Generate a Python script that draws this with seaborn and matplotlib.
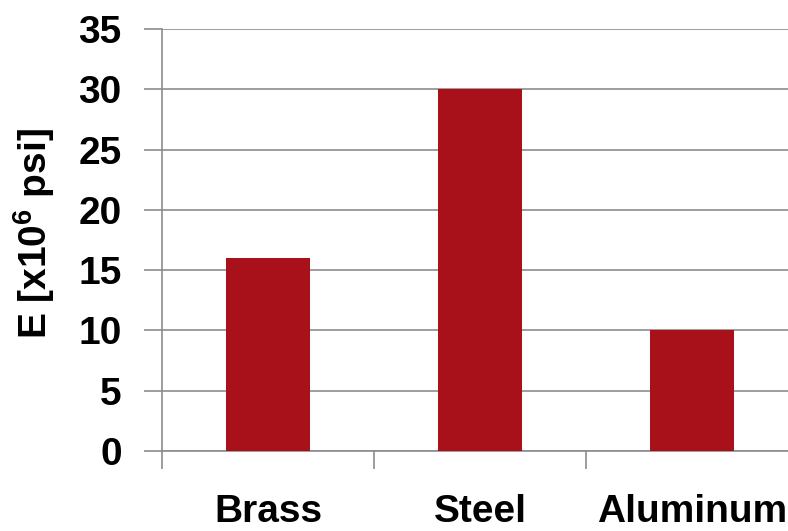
import matplotlib
matplotlib.use("Agg")
import matplotlib.pyplot as plt
import seaborn as sns
import numpy as np
from matplotlib.ticker import FixedLocator, NullFormatter

materials = ["Brass", "Steel", "Aluminum"]
modulus = [16, 30, 10]
y_ticks = [0, 5, 10, 15, 20, 25, 30, 35]

sns.set_style("white")
plt.rcParams["font.family"] = ["Liberation Sans", "DejaVu Sans"]
plt.rcParams["font.weight"] = "bold"
plt.rcParams["text.color"] = "black"
plt.rcParams["axes.labelcolor"] = "black"
plt.rcParams["xtick.color"] = "black"
plt.rcParams["ytick.color"] = "black"
plt.rcParams["mathtext.fontset"] = "custom"
plt.rcParams["mathtext.bf"] = "Liberation Sans:bold"
plt.rcParams["mathtext.rm"] = "Liberation Sans:bold"
plt.rcParams["mathtext.default"] = "bf"

grey = "#8c8c8c"
bar_color = "#a8101a"

fig = plt.figure(figsize=(7.88, 5.31), dpi=100)
ax = fig.add_axes([162 / 788, 1 - 451 / 531, 636 / 788, 422 / 531])

sns.barplot(x=materials, y=modulus, color=bar_color, width=0.4,
            saturation=1, linewidth=0, ax=ax, zorder=3)

ax.set_xlim(-0.5, 2.5)
ax.set_ylim(0, 35)
ax.set_yticks(y_ticks)
ax.set_yticklabels([str(t) for t in y_ticks], fontsize=28, fontweight="bold")
ax.yaxis.grid(True, color=grey, linewidth=1.2, zorder=0)
ax.set_axisbelow(True)
ax.tick_params(axis="y", length=13, width=1.2, color=grey, labelcolor="black",
               pad=16, left=True)

# category ticks at boundaries, labels at centres
ax.xaxis.set_major_locator(FixedLocator([-0.5, 0.5, 1.5, 2.5]))
ax.xaxis.set_major_formatter(NullFormatter())
ax.xaxis.set_minor_locator(FixedLocator([0, 1, 2]))
ax.set_xticklabels(materials, minor=True, fontsize=28, fontweight="bold")
ax.tick_params(axis="x", which="major", length=13, width=1.2, color=grey, bottom=True)
ax.tick_params(axis="x", which="minor", length=0, pad=31, labelcolor="black")

for side in ["top", "right"]:
    ax.spines[side].set_visible(False)
for side in ["left", "bottom"]:
    ax.spines[side].set_color(grey)
    ax.spines[side].set_linewidth(1.2)

ax.set_xlabel("")
ax.set_ylabel(r"E [x10$^6$ psi]", fontsize=28, fontweight="bold", color="black")
ax.yaxis.set_label_coords(-0.165, 0.515)

fig.savefig("out.png", dpi=100)
